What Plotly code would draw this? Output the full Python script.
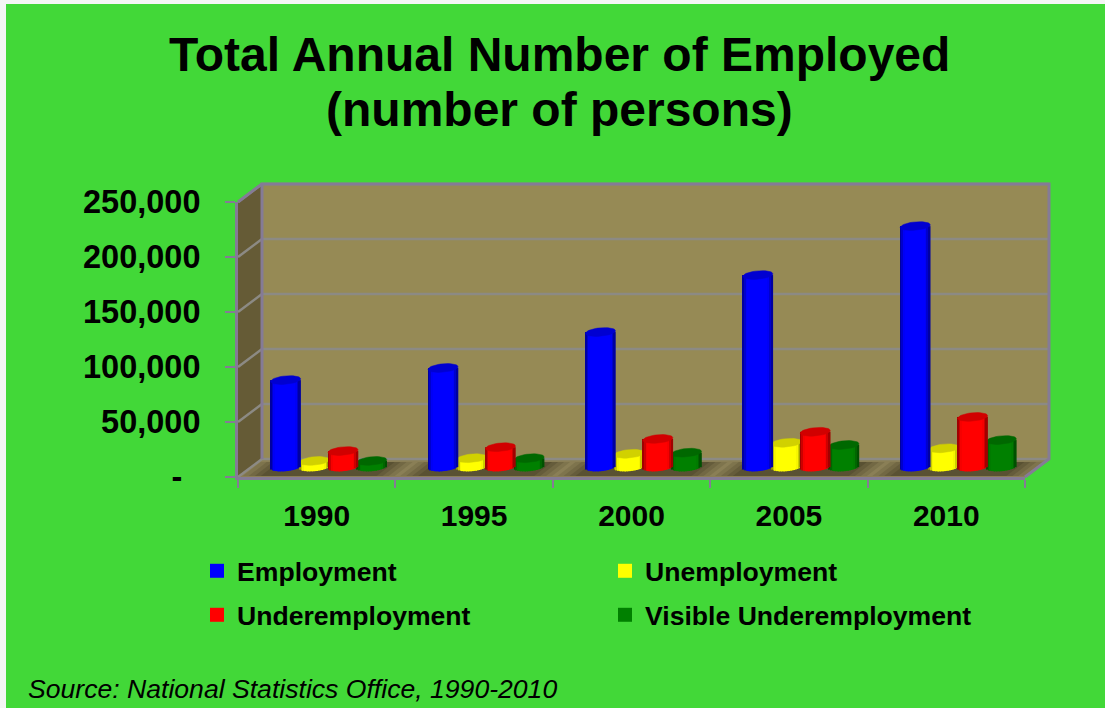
import math
import plotly.graph_objects as go

years = ["1990", "1995", "2000", "2005", "2010"]
employment = [79000, 90000, 122700, 174500, 219000]
unemployment = [5500, 8000, 12000, 22000, 17000]
underemployment = [14500, 18000, 25500, 32000, 45500]
visible_under = [5500, 8000, 13000, 20000, 24500]
y_ticks = [0, 50000, 100000, 150000, 200000, 250000]
y_tick_text = ["-\u00a0\u00a0", "50,000", "100,000", "150,000", "200,000", "250,000"]

W, H = 1105, 708
LEFT, RIGHT, BOTTOM, TOP = 238, 1025, 477, 202
DX, DY = 24, 18            # depth of the 3D box
GREEN = "#42D838"
FRAME = "#857B96"
GRID = "#8C8A84"
FONT = "Liberation Sans"

# (name, values, rgb, position in the group) in drawing order
series = [
    ("Unemployment", unemployment, (255, 255, 0), 1),
    ("Visible Underemployment", visible_under, (0, 128, 0), 3),
    ("Underemployment", underemployment, (255, 0, 0), 2),
    ("Employment", employment, (0, 0, 255), 0),
]
legend_pos = {
    "Employment": ("legend", 197, 571),
    "Unemployment": ("legend2", 605, 571),
    "Underemployment": ("legend3", 197, 615),
    "Visible Underemployment": ("legend4", 605, 615),
}

cat_w = (RIGHT - LEFT) / len(years)
unit = 250000 / (BOTTOM - TOP)
bar_dx, bar_dy = 12, 10
diam = 30 / cat_w
pitch = 28.7 / cat_w
ell_h = 4.2 * unit
tilt = 1.3 * unit
N = 18

fx = lambda p: p / W
fy = lambda p: 1 - p / H
val_y = lambda v: BOTTOM - v / unit


def poly(pts, fill=None, line=None, width=2, layer="below"):
    d = "M" + "L".join(f"{fx(x):.5f},{fy(y):.5f}" for x, y in pts)
    if fill:
        d += "Z"
    return dict(type="path", path=d, xref="paper", yref="paper", layer=layer,
                fillcolor=fill, line=dict(color=line, width=width if line else 0))


shapes = [
    dict(type="rect", xref="paper", yref="paper", x0=fx(6), x1=1, y0=0, y1=fy(4),
         fillcolor=GREEN, line_width=0, layer="below"),
    # back wall, side wall, floor
    poly([(LEFT + DX, TOP - DY), (RIGHT + DX, TOP - DY), (RIGHT + DX, BOTTOM - DY), (LEFT + DX, BOTTOM - DY)], "#968A55"),
    poly([(LEFT, TOP), (LEFT + DX, TOP - DY), (LEFT + DX, BOTTOM - DY), (LEFT, BOTTOM)], "#655B36"),
    poly([(LEFT, BOTTOM), (RIGHT, BOTTOM), (RIGHT + DX, BOTTOM - DY), (LEFT + DX, BOTTOM - DY)], "#8A7F56"),
]
# soft floor shadow around each group of cylinders
for i in range(len(years)):
    cx = LEFT + (i + 0.5) * cat_w + 2
    for half, alpha in [(76, 0.12), (70, 0.15), (64, 0.18), (58, 0.2)]:
        shapes.append(poly([(cx - half, BOTTOM - 1), (cx + half, BOTTOM - 1),
                            (cx + half + 18, BOTTOM - 15), (cx - half + 18, BOTTOM - 15)],
                           f"rgba(45,38,20,{alpha})"))
for v in y_ticks:
    y = val_y(v)
    shapes.append(poly([(LEFT, y), (LEFT + DX, y - DY), (RIGHT + DX, y - DY)], None, GRID, 2.5))
shapes += [
    poly([(LEFT + DX, BOTTOM - DY), (LEFT + DX, TOP - DY), (RIGHT + DX, TOP - DY), (RIGHT + DX, BOTTOM - DY), (RIGHT, BOTTOM)], None, FRAME, 3),
    poly([(LEFT, TOP), (LEFT + DX, TOP - DY)], None, FRAME, 3),
]

fig = go.Figure()
# main axis carrier (invisible)
fig.add_trace(go.Scatter(x=years, y=employment, mode="none", showlegend=False, hoverinfo="skip"))

layout_axes = {}
for k, (name, values, rgb, pos) in enumerate(series):
    n = k + 2
    xa, ya = f"x{n}", f"y{n}"
    layout_axes[f"xaxis{n}"] = dict(
        domain=[fx(LEFT), fx(RIGHT)], overlaying="x", visible=False, anchor=ya,
        range=[-0.5 - bar_dx / cat_w, 4.5 - bar_dx / cat_w])
    layout_axes[f"yaxis{n}"] = dict(
        domain=[fy(BOTTOM), fy(TOP)], overlaying="y", visible=False, anchor=xa,
        range=[-bar_dy * unit, 250000 - bar_dy * unit])
    xs = list(range(len(years)))
    centre = (pos - 1.5) * pitch
    for j in range(N):
        u0 = -1 + 2 * j / N
        u = -1 + 2 * (j + 0.5) / N
        shade = 0.55 + 0.45 * min(1.0, (1 - abs(u)) / 0.3)
        col = "rgb({},{},{})".format(*[int(c * shade) for c in rgb])
        base = -ell_h * math.sqrt(max(0, 1 - u * u)) + tilt * u
        fig.add_trace(go.Bar(
            x=xs, y=[v - base for v in values], base=[base] * len(xs),
            width=diam / N * 1.15, offset=centre + u0 * diam / 2,
            marker=dict(color=col, line_width=0), xaxis=xa, yaxis=ya,
            showlegend=False, hoverinfo="skip"))
    top_col = "rgb({},{},{})".format(*[int(c * 0.82) for c in rgb])
    ex, ey = [], []
    for i, v in enumerate(values):
        for t in range(37):
            a = 2 * math.pi * t / 36
            ex.append(i + centre + math.cos(a) * diam / 2)
            ey.append(v + ell_h * math.sin(a) + tilt * math.cos(a))
        ex.append(None)
        ey.append(None)
    fig.add_trace(go.Scatter(
        x=ex, y=ey, mode="lines", fill="toself", fillcolor=top_col,
        line=dict(color=top_col, width=0.5), xaxis=xa, yaxis=ya,
        showlegend=False, hoverinfo="skip", cliponaxis=False))
    # legend entry
    lg = legend_pos[name][0]
    fig.add_trace(go.Scatter(
        x=[None], y=[None], mode="markers", name=name, legend=lg,
        marker=dict(symbol="square", size=14, color="rgb({},{},{})".format(*rgb)),
        xaxis=xa, yaxis=ya))

legends = {}
for name, (lg, lx, ly) in legend_pos.items():
    legends[lg] = dict(x=fx(lx), y=fy(ly), xanchor="left", yanchor="middle",
                       bgcolor="rgba(0,0,0,0)", borderwidth=0,
                       font=dict(family=FONT, size=26.6, weight=700, color="black"))

fig.update_layout(
    width=W, height=H, margin=dict(l=0, r=0, t=0, b=0, autoexpand=False), autosize=False,
    paper_bgcolor="#F4F6F4", plot_bgcolor="rgba(0,0,0,0)",
    barmode="overlay", shapes=shapes, **legends, **layout_axes,
    xaxis=dict(domain=[fx(LEFT), fx(RIGHT)], type="category", categoryorder="array",
               categoryarray=years, range=[-0.5, 4.5], tickson="boundaries",
               ticks="outside", ticklen=8, tickwidth=2, tickcolor=FRAME,
               showline=True, linecolor=FRAME, linewidth=3, showgrid=False, zeroline=False,
               tickangle=0, automargin=False, ticklabelstandoff=10,
               tickfont=dict(family=FONT, size=30, weight=700, color="black"),
               fixedrange=True, anchor="y"),
    yaxis=dict(domain=[fy(BOTTOM), fy(TOP)], range=[0, 250000], tickmode="array",
               tickvals=y_ticks, ticktext=y_tick_text, ticks="outside", ticklen=10,
               tickwidth=2, tickcolor=FRAME, showline=True, linecolor=FRAME, linewidth=3,
               showgrid=False, zeroline=False, automargin=False, ticklabelstandoff=18,
               tickfont=dict(family=FONT, size=32.5, weight=700, color="black"),
               fixedrange=True, anchor="x"),
    annotations=[
        dict(text="Total Annual Number of Employed", xref="paper", yref="paper",
             x=fx(559), y=fy(55), xanchor="center", yanchor="middle", showarrow=False,
             font=dict(family=FONT, size=48, weight=700, color="black")),
        dict(text="(number of persons)", xref="paper", yref="paper",
             x=fx(559), y=fy(110), xanchor="center", yanchor="middle", showarrow=False,
             font=dict(family=FONT, size=48, weight=700, color="black")),
        dict(text="<i>Source: National Statistics Office, 1990-2010</i>", xref="paper", yref="paper",
             x=fx(26), y=fy(689), xanchor="left", yanchor="middle", showarrow=False,
             font=dict(family=FONT, size=26.6, color="black")),
    ],
)
fig.write_html("out.html", config=dict(displayModeBar=False),
               post_script="document.body.style.margin='0';")
